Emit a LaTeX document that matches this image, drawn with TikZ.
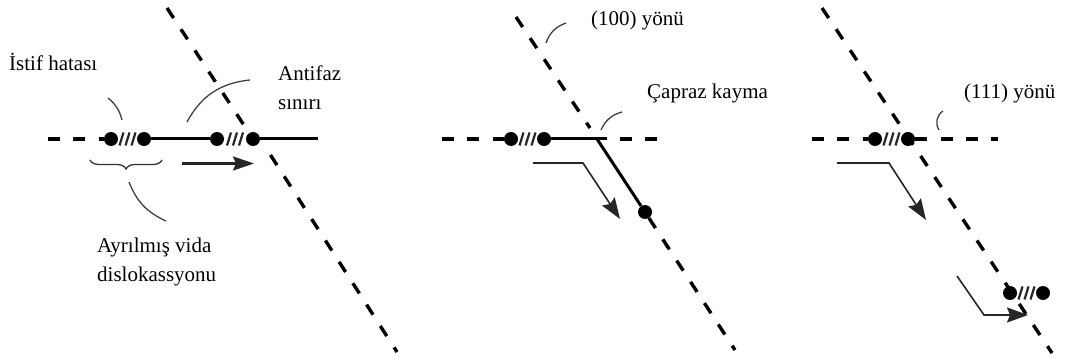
\documentclass[tikz,border=0pt]{standalone}
\usepackage{fontspec}
\setmainfont{Liberation Serif}
\usepackage{tikz}
\usetikzlibrary{arrows.meta,decorations.pathreplacing}
\tikzset{
  dashline/.style  = {line width=3.4pt,dash pattern=on 12pt off 13.4pt},
  slipline/.style  = {line width=3pt},
  hatchline/.style = {line width=2.2pt,black!85},
  dotnode/.style   = {circle,fill=black,minimum size=14pt,inner sep=0pt},
  leader/.style    = {line width=1.3pt,black!75},
  slipbig/.style   = {-{Stealth[length=21pt,width=14pt,inset=3pt]},line width=2.4pt,black!85},
  slipbent/.style  = {-{Stealth[length=21pt,width=15pt,inset=3pt]},line width=1.6pt,black!85},
  bracket/.style   = {line width=1.3pt,black!80,decorate,decoration={brace,amplitude=9pt}},
  lbl/.style       = {anchor=base west,inner sep=0pt,font=\fontsize{21}{21}\selectfont}
}
\begin{document}
\begin{tikzpicture}[x=1pt,y=-1pt]
  \useasboundingbox (0,0) rectangle (1066,358);
  % left panel
  \coordinate (atop) at (167,8);
  \coordinate (amid) at (270.5,155);
  \coordinate (abot) at (397,352);
  \coordinate (aleft) at (48,139);
  \coordinate (aright) at (318,139);
  \node[dotnode] (a1) at (111,139) {};
  \node[dotnode] (a2) at (144,139) {};
  \node[dotnode] (a3) at (217,139) {};
  \node[dotnode] (a4) at (253,139) {};
  \coordinate (h1) at (127.5,139);
  \coordinate (h2) at (235,139);
  \draw[dashline] (atop) -- (a4);
  \draw[dashline] (amid) -- (abot);
  \draw[dashline] (aleft) -- (a1);
  \draw[slipline] (a2) -- (a3);
  \draw[slipline] (a4) -- (aright);
  \coordinate (bra) at (90,160);
  \coordinate (brb) at (162,160);
  \draw[bracket] (brb) -- (bra);
  \coordinate (arra) at (182,163.5);
  \coordinate (arrb) at (254,163.5);
  \draw[slipbig] (arra) -- (arrb);
  \node[lbl] (istif) at (9,71) {İstif hatası};
  \node[lbl] (antifaz) at (278,81) {Antifaz};
  \node[lbl] (sinir) at (278,110) {sınırı};
  \node[lbl] (ayrilmis) at (97,253) {Ayrılmış vida};
  \node[lbl] (dislok) at (97,282) {dislokassyonu};
  \coordinate (la1) at (108,98);
  \coordinate (la2) at (122,120);
  \coordinate (lb1) at (187,122);
  \coordinate (lb2) at (250,80);
  \coordinate (lc1) at (129,182);
  \coordinate (lc2) at (166,221);
  \draw[leader] (la1) to[bend left=18] (la2);
  \draw[leader] (lb1) to[bend left=28] (lb2);
  \draw[leader] (lc1) to[bend right=22] (lc2);
  % middle panel
  \coordinate (btop) at (516,17);
  \coordinate (bmid) at (590,128);
  \coordinate (bbot) at (735,350);
  \coordinate (bleft) at (442,139);
  \coordinate (bright) at (658,139);
  \coordinate (bkink) at (597,139);
  \coordinate (bend) at (607,139);
  \coordinate (bdash) at (620,139);
  \node[dotnode] (b1) at (511,139) {};
  \node[dotnode] (b2) at (544,139) {};
  \node[dotnode] (b3) at (645,212) {};
  \coordinate (h3) at (527.5,139);
  \draw[dashline] (btop) -- (bmid);
  \draw[dashline] (b3) -- (bbot);
  \draw[dashline] (bleft) -- (b1);
  \draw[dashline] (bdash) -- (bright);
  \draw[slipline] (b2) -- (bend);
  \draw[slipline] (bkink) -- (b3);
  \coordinate (arrc) at (533,163);
  \coordinate (arrd) at (583,163);
  \coordinate (arre) at (620,219);
  \draw[slipbent] (arrc) -- (arrd) -- (arre);
  \node[lbl] (yon100) at (591,26) {(100) yönü};
  \node[lbl] (capraz) at (647,99) {Çapraz kayma};
  \coordinate (ld1) at (546,43);
  \coordinate (ld2) at (566,23);
  \coordinate (le1) at (601,130);
  \coordinate (le2) at (622,112);
  \draw[leader] (ld1) to[bend left=25] (ld2);
  \draw[leader] (le1) to[bend left=25] (le2);
  % right panel
  \coordinate (ctop) at (822,8);
  \coordinate (cbot) at (1052,353);
  \coordinate (cleft) at (812,139);
  \coordinate (cright) at (998,139);
  \node[dotnode] (c1) at (875,139) {};
  \node[dotnode] (c2) at (908,139) {};
  \node[dotnode] (c3) at (1010,293) {};
  \node[dotnode] (c4) at (1043,293) {};
  \coordinate (h4) at (891.5,139);
  \coordinate (h5) at (1026.5,293);
  \draw[dashline] (ctop) -- (cbot);
  \draw[dashline] (cleft) -- (c1);
  \draw[dashline] (c2) -- (cright);
  \coordinate (arrf) at (837,163);
  \coordinate (arrg) at (889,163);
  \coordinate (arrh) at (926,220);
  \draw[slipbent] (arrf) -- (arrg) -- (arrh);
  \coordinate (arri) at (957,276);
  \coordinate (arrj) at (984,315);
  \coordinate (arrk) at (1028,315);
  \draw[slipbent] (arri) -- (arrj) -- (arrk);
  \node[lbl] (yon111) at (964,99) {(111) yönü};
  \coordinate (lf1) at (939,130);
  \coordinate (lf2) at (943,111);
  \draw[leader] (lf1) to[bend left=45] (lf2);
  % stacking fault hatches
  \foreach \h in {h1,h2,h3,h4,h5}
    \foreach \dx in {-6,0,6}
      \draw[hatchline] ([shift={(\dx-2,6.5)}]\h) -- ([shift={(\dx+2,-6.5)}]\h);
\end{tikzpicture}
\end{document}
